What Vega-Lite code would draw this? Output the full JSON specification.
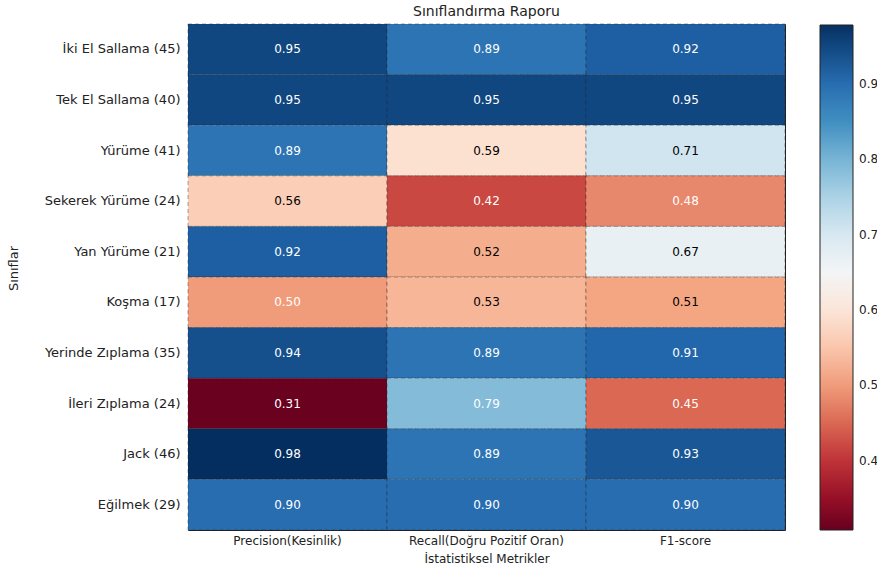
{
  "$schema": "https://vega.github.io/schema/vega-lite/v6.json",
  "width": 597,
  "height": 506,
  "autosize": "none",
  "padding": {"left": 188, "top": 24, "right": 92, "bottom": 41},
  "title": {"text": "Sınıflandırma Raporu", "fontSize": 14, "font": "DejaVu Sans", "fontWeight": "normal", "offset": 5, "color": "#222"},
  "config": {"font": "DejaVu Sans", "view": {"stroke": "#222", "strokeWidth": 1}},
  "data": {"values": [
    {"sinif": "İki El Sallama (45)", "metrik": "Precision(Kesinlik)", "deger": 0.95},
    {"sinif": "İki El Sallama (45)", "metrik": "Recall(Doğru Pozitif Oran)", "deger": 0.89},
    {"sinif": "İki El Sallama (45)", "metrik": "F1-score", "deger": 0.92},
    {"sinif": "Tek El Sallama (40)", "metrik": "Precision(Kesinlik)", "deger": 0.95},
    {"sinif": "Tek El Sallama (40)", "metrik": "Recall(Doğru Pozitif Oran)", "deger": 0.95},
    {"sinif": "Tek El Sallama (40)", "metrik": "F1-score", "deger": 0.95},
    {"sinif": "Yürüme (41)", "metrik": "Precision(Kesinlik)", "deger": 0.89},
    {"sinif": "Yürüme (41)", "metrik": "Recall(Doğru Pozitif Oran)", "deger": 0.59},
    {"sinif": "Yürüme (41)", "metrik": "F1-score", "deger": 0.71},
    {"sinif": "Sekerek Yürüme  (24)", "metrik": "Precision(Kesinlik)", "deger": 0.56},
    {"sinif": "Sekerek Yürüme  (24)", "metrik": "Recall(Doğru Pozitif Oran)", "deger": 0.42},
    {"sinif": "Sekerek Yürüme  (24)", "metrik": "F1-score", "deger": 0.48},
    {"sinif": "Yan Yürüme (21)", "metrik": "Precision(Kesinlik)", "deger": 0.92},
    {"sinif": "Yan Yürüme (21)", "metrik": "Recall(Doğru Pozitif Oran)", "deger": 0.52},
    {"sinif": "Yan Yürüme (21)", "metrik": "F1-score", "deger": 0.67},
    {"sinif": "Koşma  (17)", "metrik": "Precision(Kesinlik)", "deger": 0.50},
    {"sinif": "Koşma  (17)", "metrik": "Recall(Doğru Pozitif Oran)", "deger": 0.53},
    {"sinif": "Koşma  (17)", "metrik": "F1-score", "deger": 0.51},
    {"sinif": "Yerinde Zıplama (35)", "metrik": "Precision(Kesinlik)", "deger": 0.94},
    {"sinif": "Yerinde Zıplama (35)", "metrik": "Recall(Doğru Pozitif Oran)", "deger": 0.89},
    {"sinif": "Yerinde Zıplama (35)", "metrik": "F1-score", "deger": 0.91},
    {"sinif": "İleri Zıplama (24)", "metrik": "Precision(Kesinlik)", "deger": 0.31},
    {"sinif": "İleri Zıplama (24)", "metrik": "Recall(Doğru Pozitif Oran)", "deger": 0.79},
    {"sinif": "İleri Zıplama (24)", "metrik": "F1-score", "deger": 0.45},
    {"sinif": "Jack (46)", "metrik": "Precision(Kesinlik)", "deger": 0.98},
    {"sinif": "Jack (46)", "metrik": "Recall(Doğru Pozitif Oran)", "deger": 0.89},
    {"sinif": "Jack (46)", "metrik": "F1-score", "deger": 0.93},
    {"sinif": "Eğilmek (29)", "metrik": "Precision(Kesinlik)", "deger": 0.90},
    {"sinif": "Eğilmek (29)", "metrik": "Recall(Doğru Pozitif Oran)", "deger": 0.90},
    {"sinif": "Eğilmek (29)", "metrik": "F1-score", "deger": 0.90}
  ]},
  "encoding": {
    "y": {"field": "sinif", "type": "nominal", "sort": null, "title": "Sınıflar",
      "axis": {"labelFontSize": 13, "labelColor": "#222", "ticks": false, "domain": false, "labelPadding": 8,
        "titleFontSize": 13, "titleFontWeight": "normal", "titleColor": "#222", "titleX": -168, "titleY": 244, "titleAlign": "center", "titleBaseline": "bottom"}},
    "x": {"field": "metrik", "type": "nominal", "sort": null, "title": "İstatistiksel Metrikler",
      "axis": {"labelAngle": 0, "labelFontSize": 12, "labelColor": "#222", "ticks": false, "domain": false, "labelPadding": 5,
        "titleFontSize": 12, "titleFontWeight": "normal", "titleColor": "#222", "titlePadding": 7}}
  },
  "layer": [
    {
      "mark": {"type": "rect", "stroke": "#222", "strokeDash": [4, 3], "strokeWidth": 0.8, "strokeOpacity": 0.5},
      "encoding": {
        "color": {"field": "deger", "type": "quantitative",
          "scale": {"domain": [0.308, 0.375, 0.442, 0.509, 0.576, 0.643, 0.710, 0.777, 0.844, 0.911, 0.978],
            "range": ["#67001f", "#b2182b", "#d6604d", "#f4a582", "#fddbc7", "#f7f7f7", "#d1e5f0", "#92c5de", "#4393c3", "#2166ac", "#053061"],
            "interpolate": "rgb"},
          "legend": {"orient": "none", "legendX": 632, "legendY": 1, "title": null, "direction": "vertical",
            "gradientLength": 505, "gradientThickness": 33, "gradientStrokeColor": "#222", "gradientStrokeWidth": 1,
            "values": [0.4, 0.5, 0.6, 0.7, 0.8, 0.9], "format": ".1f", "labelFontSize": 12, "labelColor": "#222", "labelOffset": 6, "labelOverlap": false}}
      }
    },
    {
      "mark": {"type": "text", "fontSize": 12},
      "encoding": {
        "text": {"field": "deger", "type": "quantitative", "format": ".2f"},
        "color": {"condition": {"test": "datum.deger <= 0.5 || datum.deger >= 0.75", "value": "white"}, "value": "black"}
      }
    }
  ]
}
